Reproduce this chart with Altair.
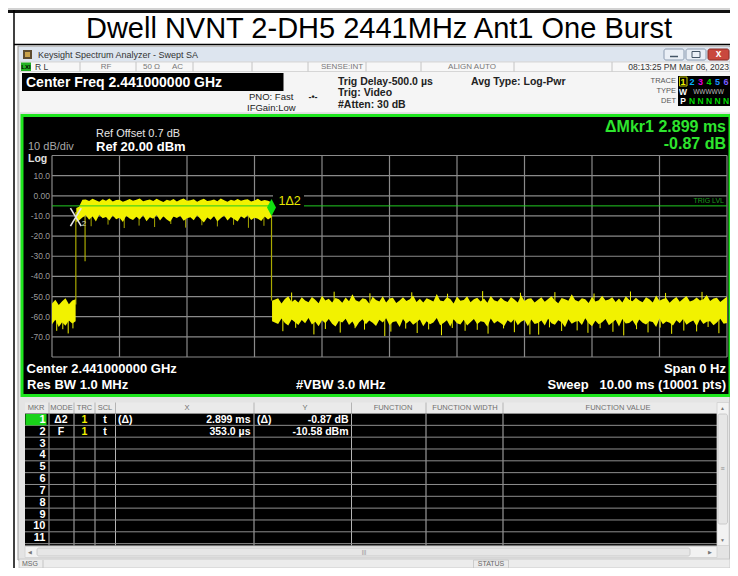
import altair as alt
import pandas as pd

# ---------------- values ----------------
TITLE = "Dwell NVNT 2-DH5 2441MHz Ant1 One Burst"

GRID_T = [0, 1, 2, 3, 4, 5, 6, 7, 8, 9, 10]
GRID_DB = [20, 10, 0, -10, -20, -30, -40, -50, -60, -70, -80]
YLAB_DB = [10, 0, -10, -20, -30, -40, -50, -60, -70]
YLAB_TXT = ["10.0", "0.00", "-10.0", "-20.0", "-30.0", "-40.0", "-50.0", "-60.0", "-70.0"]

# noise floor before the burst (ms, dBm)
NL_T = [0.00, 0.05, 0.10, 0.15, 0.20, 0.25, 0.30, 0.35]
NL_HI = [-53.5, -51.6, -54.2, -52.3, -50.9, -53.8, -52.0, -51.4]
NL_LO = [-63.8, -61.5, -65.1, -62.7, -64.5, -61.9, -63.4, -62.2]

# the burst
BURST_T = [float(v) for v in """
0.36 0.40 0.45 0.50 0.55 0.60 0.65 0.70 0.75 0.80 0.85 0.90 0.95 1.00 1.05 1.10 1.15 1.20 1.25 1.30
1.35 1.40 1.45 1.50 1.55 1.60 1.65 1.70 1.75 1.80 1.85 1.90 1.95 2.00 2.05 2.10 2.15 2.20 2.25 2.30
2.35 2.40 2.45 2.50 2.55 2.60 2.65 2.70 2.75 2.80 2.85 2.90 2.95 3.00 3.05 3.10 3.15 3.20 3.25
""".split()]
BURST_HI = [float(v) for v in """
-6.0 -5.4 -2.0 -1.8 -2.6 -1.5 -2.2 -2.9 -1.7 -2.4 -1.3 -2.8 -2.1 -1.9 -3.0 -2.3 -1.6 -2.5 -2.0 -1.4
-2.7 -2.2 -1.8 -2.6 -1.5 -2.3 -3.1 -1.9 -2.4 -1.6 -2.8 -2.0 -1.3 -2.5 -2.2 -1.7 -2.9 -2.1 -1.5 -2.6
-2.3 -1.8 -2.7 -1.4 -2.2 -2.9 -1.9 -2.4 -1.6 -2.5 -2.0 -1.7 -2.8 -2.3 -1.5 -2.6 -2.1 -2.4 -3.2
""".split()]
BURST_LO = [float(v) for v in """
-13.0 -12.2 -10.8 -9.6 -11.9 -10.2 -12.8 -9.4 -11.1 -10.5 -12.2 -9.8 -11.6 -10.9 -13.0 -9.9 -11.3 -12.0 -10.4 -11.8
-9.7 -12.6 -10.7 -11.4 -9.5 -12.3 -10.1 -11.7 -12.9 -10.3 -11.0 -9.9 -12.4 -11.2 -10.6 -12.1 -9.6 -11.5 -13.2 -10.8
-11.9 -10.0 -12.7 -11.1 -9.8 -12.2 -10.5 -11.6 -12.8 -10.2 -11.3 -9.7 -12.0 -10.9 -11.4 -12.5 -10.3 -11.8 -10.6
""".split()]
BURST_SPK_T = [0.58, 0.83, 1.07, 1.29, 1.52, 1.76, 1.98, 2.22, 2.45, 2.69, 2.91, 3.14]
BURST_SPK_DB = [-15.1, -14.3, -16.0, -14.8, -15.5, -14.0, -15.8, -14.6, -15.2, -14.4, -15.9, -14.9]

# noise floor after the burst
NR_T = [float(v) for v in """
3.26 3.35 3.40 3.45 3.50 3.55 3.60 3.65 3.70 3.75 3.80 3.85 3.90 3.95 4.00 4.05 4.10 4.15 4.20 4.25
4.30 4.35 4.40 4.45 4.50 4.55 4.60 4.65 4.70 4.75 4.80 4.85 4.90 4.95 5.00 5.05 5.10 5.15 5.20 5.25
5.30 5.35 5.40 5.45 5.50 5.55 5.60 5.65 5.70 5.75 5.80 5.85 5.90 5.95 6.00 6.05 6.10 6.15 6.20 6.25
6.30 6.35 6.40 6.45 6.50 6.55 6.60 6.65 6.70 6.75 6.80 6.85 6.90 6.95 7.00 7.05 7.10 7.15 7.20 7.25
7.30 7.35 7.40 7.45 7.50 7.55 7.60 7.65 7.70 7.75 7.80 7.85 7.90 7.95 8.00 8.05 8.10 8.15 8.20 8.25
8.30 8.35 8.40 8.45 8.50 8.55 8.60 8.65 8.70 8.75 8.80 8.85 8.90 8.95 9.00 9.05 9.10 9.15 9.20 9.25
9.30 9.35 9.40 9.45 9.50 9.55 9.60 9.65 9.70 9.75 9.80 9.85 9.90 9.95 10.00
""".split()]
NR_HI = [float(v) for v in """
-52.1 -50.8 -53.4 -51.2 -49.9 -52.7 -51.5 -53.0 -50.4 -51.9 -52.8 -50.2 -51.6 -53.3 -49.6 -52.0 -51.1 -52.9 -50.7 -51.4
-53.1 -50.5 -52.3 -48.9 -51.8 -52.6 -50.9 -51.3 -53.5 -50.1 -51.7 -52.4 -49.8 -52.9 -51.0 -50.6 -53.2 -51.9 -50.3 -52.2
-51.4 -49.5 -52.7 -51.1 -53.0 -50.8 -51.6 -52.5 -48.7 -51.9 -52.3 -50.4 -51.2 -53.4 -50.0 -52.1 -51.7 -49.9 -52.8 -51.3
-50.6 -52.5 -51.0 -53.1 -49.7 -51.8 -52.4 -50.5 -51.9 -52.7 -50.2 -51.5 -53.0 -49.4 -52.2 -51.1 -50.8 -52.9 -51.6 -50.3
-52.6 -51.2 -49.8 -52.0 -53.3 -50.7 -51.4 -52.1 -48.8 -51.7 -52.4 -50.9 -51.3 -53.2 -50.1 -52.5 -51.8 -49.6 -52.0 -51.5
-50.4 -52.7 -51.0 -53.0 -49.9 -51.6 -52.3 -50.6 -51.9 -52.8 -50.3 -51.4 -52.9 -49.5 -52.1 -51.2 -50.7 -53.1 -51.5 -50.2
-52.6 -51.1 -49.7 -52.4 -51.8 -50.5 -52.0 -51.3 -49.2 -52.2 -51.0 -50.6 -52.7 -51.4 -50.1
""".split()]
NR_LO = [float(v) for v in """
-62.3 -63.6 -60.9 -63.1 -64.4 -61.4 -62.8 -64.1 -61.6 -63.3 -60.7 -63.9 -62.5 -64.7 -61.8 -63.2 -61.2 -63.5 -64.9 -62.1
-62.9 -61.0 -64.1 -62.4 -65.3 -62.7 -61.3 -63.8 -61.9 -63.0 -64.6 -61.5 -62.9 -60.8 -64.3 -62.6 -62.2 -65.1 -61.1 -63.4
-62.0 -64.0 -62.7 -61.4 -64.7 -62.3 -63.7 -62.9 -60.6 -64.2 -63.1 -61.7 -64.9 -61.3 -63.3 -63.9 -61.5 -64.4 -62.8 -61.1
-63.8 -62.2 -62.6 -65.0 -60.9 -63.4 -62.1 -63.2 -64.6 -61.8 -63.0 -61.2 -64.3 -62.5 -61.6 -64.8 -61.4 -63.6 -63.1 -61.9
-64.4 -61.0 -63.2 -64.0 -61.7 -62.8 -65.2 -61.3 -63.5 -62.5 -62.1 -64.1 -60.8 -63.3 -64.7 -62.0 -63.8 -62.7 -61.2 -64.2
-62.9 -61.5 -64.9 -61.1 -63.4 -63.1 -61.8 -64.5 -61.4 -63.0 -63.9 -62.3 -62.6 -65.1 -60.9 -63.7 -62.4 -63.0 -64.4 -61.7
-63.2 -61.1 -64.0 -62.8 -61.9 -64.8 -61.3 -63.6 -62.5 -62.2 -64.3 -62.9 -61.0 -63.5 -63.1
""".split()]
NOISE_DN_T = [0.07, 0.16, 0.24, 0.31,
              3.42, 3.61, 3.88, 4.05, 4.27, 4.49, 4.63, 4.93, 5.02, 5.24, 5.41, 5.58, 5.77, 5.93, 6.12, 6.30,
              6.46, 6.69, 6.85, 7.08, 7.21, 7.37, 7.55, 7.78, 7.94, 8.12, 8.31, 8.47, 8.66, 8.83, 9.01, 9.18,
              9.36, 9.55, 9.72, 9.88]
NOISE_DN_DB = [-67.0, -66.2, -68.3, -65.8,
               -67.2, -65.5, -68.8, -66.1, -67.9, -65.7, -66.4, -69.6, -67.4, -65.9, -68.1, -66.3, -69.2, -65.6, -67.0, -66.5,
               -68.4, -65.8, -67.7, -68.8, -68.9, -65.3, -67.1, -66.8, -68.0, -65.7, -67.5, -69.3, -66.2, -67.8, -65.4, -68.5,
               -66.9, -67.3, -65.1, -68.2]
NOISE_UP_T = [3.55, 4.18, 4.71, 5.33, 5.86, 6.38, 6.94, 7.45, 8.03, 8.57, 9.09, 9.63]
NOISE_UP_DB = [-48.0, -47.6, -48.4, -47.9, -48.6, -47.3, -48.1, -47.8, -48.5, -47.5, -48.2, -47.7]

# edges of the burst: time, top, bottom
EDGE_T = [0.353, 0.49, 3.252]
EDGE_TOP = [-8.0, -10.0, -6.0]
EDGE_BOT = [-54.0, -32.5, -52.0]

TRIG_LVL_DB = -5.0
MKR2_T, MKR2_DB = 0.353, -10.58
MKR1_T, MKR1_DB = 3.252, -5.8

MKR_ROWS = [str(i) for i in range(1, 12)]
MKR_MODE = ["Δ2", "F"]
MKR_X = ["2.899 ms", "353.0 µs"]
MKR_Y = ["-0.87 dB", "-10.58 dBm"]

# ---------------- layout ----------------
OX, OY = 8, 8
W, H = 722, 560
FONT = "Liberation Sans"
GX0, GX1 = 52, 727
GY0, GY1 = 155.5, 357
YEL = "#f2f200"
OLIVE = "#a9a900"

XS = alt.Scale(domain=[0, 10], range=[GX0 - OX, GX1 - OX], nice=False, zero=False)
YS = alt.Scale(domain=[-80, 20], range=[GY1 - OY, GY0 - OY], nice=False, zero=False)

one = pd.DataFrame({"k": [0]})
layers = []


def px(x):
    return min(max(x, OX), OX + W) - OX


def py(y):
    return min(max(y, OY), OY + H) - OY


def rect(x1, y1, x2, y2, fill, stroke=None, sw=1, r=0):
    kw = {"fill": fill}
    if stroke:
        kw.update(stroke=stroke, strokeWidth=sw)
    if r:
        kw.update(cornerRadius=r)
    layers.append(alt.Chart(one).mark_rect(**kw).encode(
        x=alt.value(px(x1)), x2=alt.value(px(x2)), y=alt.value(py(y1)), y2=alt.value(py(y2))))


def hline(x1, x2, y, color, sw=1):
    layers.append(alt.Chart(one).mark_rule(color=color, strokeWidth=sw).encode(
        x=alt.value(px(x1)), x2=alt.value(px(x2)), y=alt.value(py(y))))


def vline(x, y1, y2, color, sw=1):
    layers.append(alt.Chart(one).mark_rule(color=color, strokeWidth=sw).encode(
        x=alt.value(px(x)), y=alt.value(py(y1)), y2=alt.value(py(y2))))


def text(x, y, s, size, color, weight="normal", align="left", font=FONT):
    layers.append(alt.Chart(one).mark_text(
        text=s, fontSize=size, color=color, fontWeight=weight, align=align,
        baseline="middle", font=font).encode(x=alt.value(x - OX), y=alt.value(y - OY)))


# ---- document table + title ----
rect(0, 0, 738, 10, "#d2d2d2")
rect(0, 10, 738, 13, "#111111")
vline(14, 10, 576, "#000000", 1.5)
hline(14, 738, 44.5, "#000000", 1.5)
text(379, 28.5, TITLE, 29, "#000000", align="center")

# ---- window ----
rect(18, 46, 733, 560, "#e4e4e4", "#9c9c9c", 1)
rect(19, 47, 732, 61.5, "#dde5ef")
rect(23, 50, 32, 59, "#5d4c30")
rect(25, 52, 30, 57, "#c9a24a")
text(38, 54.5, "Keysight Spectrum Analyzer - Swept SA", 9, "#333333")
rect(664, 49, 684, 60, "#eaeff6", "#8b9bb0", 1, 2)
hline(670, 678, 56.5, "#445566", 1.5)
rect(686, 49, 706, 60, "#eaeff6", "#8b9bb0", 1, 2)
rect(692, 51.5, 700, 57.5, "#eaeff6", "#445566", 1)
rect(708, 49, 729, 60, "#c9483e", "#8a2a22", 1, 2)
text(718.5, 54.3, "x", 10, "#ffffff", "bold", "center")

# status row
rect(20, 62, 731, 71.5, "#f7f7f7", "#cfcfcf", 0.8)
rect(21, 62.5, 31, 71, "#24b324")
text(26, 67, "LXI", 6, "#000000", "bold", "center")
for sx in [80, 136, 193, 252, 308, 366, 421, 514, 612]:
    vline(sx, 62, 71.5, "#c4c4c4")
text(35, 67, "R L", 8.5, "#333333")
text(106, 67, "RF", 8, "#777777", align="center")
text(143, 67, "50 Ω", 8, "#777777")
text(172, 67, "AC", 8, "#777777")
text(342, 67, "SENSE:INT", 8, "#777777", align="center")
text(472, 67, "ALIGN AUTO", 8, "#777777", align="center")
text(729, 67, "08:13:25 PM Mar 06, 2023", 8.5, "#333333", align="right")

# info panel
rect(20, 72, 731, 113.5, "#f5f5f5")
hline(20, 731, 113, "#cfcfcf")
rect(22, 73, 283.5, 91, "#000000")
text(26, 82.5, "Center Freq 2.441000000 GHz", 14, "#ffffff", "bold")
text(249, 97, "PNO: Fast", 9.5, "#222222")
text(313, 97, "-•-", 9, "#222222", "bold", "center")
text(247, 107.5, "IFGain:Low", 9.5, "#222222")
text(338, 81.5, "Trig Delay-500.0 µs", 10.5, "#222222", "bold")
text(338, 93, "Trig: Video", 10.5, "#222222", "bold")
text(338, 105, "#Atten: 30 dB", 10.5, "#222222", "bold")
text(471, 81.5, "Avg Type: Log-Pwr", 10.5, "#222222", "bold")
text(676, 81, "TRACE", 7.5, "#555555", align="right")
text(676, 91, "TYPE", 7.5, "#555555", align="right")
text(676, 101, "DET", 7.5, "#555555", align="right")
rect(678, 76, 730, 106, "#000000")
rect(679.5, 77, 687, 86, "#000000", "#c8c800", 1)
TR_X = [683, 692, 700.5, 709, 717.5, 726]
TR_C = ["#f0f000", "#00b4ff", "#e000e0", "#00d800", "#1e90ff", "#7a5cff"]
for i, (tx, tc) in enumerate(zip(TR_X, TR_C)):
    text(tx, 81.5, str(i + 1), 9, tc, "bold", "center")
text(683, 91.5, "W", 8.5, "#ffffff", "bold", "center")
text(708.5, 91.5, "WWWWW", 6.5, "#bdbdbd", align="center")
text(683, 101, "P", 8.5, "#ffffff", "bold", "center")
for tx in TR_X[1:]:
    text(tx, 101, "N", 8.5, "#00d800", "bold", "center")

# ---- plot panel ----
rect(22, 115.5, 730.5, 395.5, "#000000", "#1ee61e", 3)
text(96, 134, "Ref Offset 0.7 dB", 11, "#e6e6e6")
text(96, 146.5, "Ref 20.00 dBm", 13, "#ffffff", "bold")
text(28, 147, "10 dB/div", 11, "#a8a8a8")
text(28, 158.5, "Log", 10.5, "#e0e0e0", "bold")
text(726, 127, "ΔMkr1 2.899 ms", 16, "#2ee52e", "bold", "right")
text(726, 143.5, "-0.87 dB", 16, "#2ee52e", "bold", "right")
text(26.5, 368.5, "Center 2.441000000 GHz", 13, "#ffffff", "bold")
text(27, 384.5, "Res BW 1.0 MHz", 13, "#ffffff", "bold")
text(296, 384.5, "#VBW 3.0 MHz", 13, "#ffffff", "bold")
text(726, 368.5, "Span 0 Hz", 13, "#ffffff", "bold", "right")
text(726, 384.5, "Sweep\u00a0\u00a0 10.00 ms (10001 pts)", 13, "#ffffff", "bold", "right")


def X_ENC(f):
    return alt.X(f, type="quantitative", scale=XS, axis=None)


def Y_ENC(f):
    return alt.Y(f, type="quantitative", scale=YS, axis=None)


# graticule
layers.append(alt.Chart(pd.DataFrame({"t": GRID_T})).mark_rule(color="#8a8a8a", strokeWidth=1.2).encode(
    x=X_ENC("t"), y=alt.value(py(GY0)), y2=alt.value(py(GY1))))
layers.append(alt.Chart(pd.DataFrame({"db": GRID_DB})).mark_rule(color="#8a8a8a", strokeWidth=1.2).encode(
    y=Y_ENC("db"), x=alt.value(px(GX0)), x2=alt.value(px(GX1))))
layers.append(alt.Chart(pd.DataFrame({"db": YLAB_DB, "lab": YLAB_TXT})).mark_text(
    align="right", baseline="middle", fontSize=8.5, color="#9a9a9a", font=FONT).encode(
    x=alt.value(px(50)), y=Y_ENC("db"), text="lab:N"))

# trace: spikes, edges, dense bands
spk = pd.DataFrame({"t": BURST_SPK_T, "db": BURST_SPK_DB})
layers.append(alt.Chart(spk).transform_calculate(base="-10").mark_rule(color=OLIVE, strokeWidth=1).encode(
    x=X_ENC("t"), y=Y_ENC("db"), y2="base:Q"))
edges = pd.DataFrame({"t": EDGE_T, "top": EDGE_TOP, "bot": EDGE_BOT})
layers.append(alt.Chart(edges).mark_rule(color=OLIVE, strokeWidth=1.2).encode(
    x=X_ENC("t"), y=Y_ENC("top"), y2="bot:Q"))
dn = pd.DataFrame({"t": NOISE_DN_T, "db": NOISE_DN_DB})
layers.append(alt.Chart(dn).transform_calculate(base="-61").mark_rule(color=YEL, strokeWidth=1).encode(
    x=X_ENC("t"), y=Y_ENC("db"), y2="base:Q"))
up = pd.DataFrame({"t": NOISE_UP_T, "db": NOISE_UP_DB})
layers.append(alt.Chart(up).transform_calculate(base="-53").mark_rule(color=YEL, strokeWidth=1).encode(
    x=X_ENC("t"), y=Y_ENC("db"), y2="base:Q"))
for ts, hi, lo in [(NL_T, NL_HI, NL_LO), (BURST_T, BURST_HI, BURST_LO), (NR_T, NR_HI, NR_LO)]:
    df = pd.DataFrame({"t": ts, "hi": hi, "lo": lo})
    layers.append(alt.Chart(df).mark_area(color=YEL, opacity=1, interpolate="linear").encode(
        x=X_ENC("t"), y=Y_ENC("hi"), y2="lo:Q"))

# trigger level line
layers.append(alt.Chart(pd.DataFrame({"db": [TRIG_LVL_DB]})).mark_rule(color="#22cc22", strokeWidth=1).encode(
    y=Y_ENC("db"), x=alt.value(px(GX0)), x2=alt.value(px(GX1))))
text(724, 200.5, "TRIG LVL", 7, "#1c9a1c", align="right")

# markers
rect(273, 194, 304, 211.5, "#000000")
m1 = pd.DataFrame({"t": [MKR1_T], "db": [MKR1_DB]})
layers.append(alt.Chart(m1).mark_text(text="1Δ2", align="left", baseline="middle", dx=7, dy=-6,
                                      fontSize=12.5, color="#e6e600", font=FONT).encode(
    x=X_ENC("t"), y=Y_ENC("db")))
layers.append(alt.Chart(m1).mark_point(shape="M0,-1L0.53,0L0,1L-0.53,0Z", filled=True, size=289,
                                       color="#10e010", opacity=1).encode(x=X_ENC("t"), y=Y_ENC("db")))
m2 = pd.DataFrame({"t": [MKR2_T], "db": [MKR2_DB]})
layers.append(alt.Chart(m2).mark_point(shape="M-0.6,-1L0.6,1M0.6,-1L-0.6,1", filled=False, size=324,
                                       color="#e4e4e4", strokeWidth=1.6, opacity=1).encode(
    x=X_ENC("t"), y=Y_ENC("db")))
layers.append(alt.Chart(m2).mark_text(text="2", align="left", baseline="middle", dx=6, dy=7,
                                      fontSize=8, color="#d8d8c0", font=FONT).encode(
    x=X_ENC("t"), y=Y_ENC("db")))

# ---- marker table ----
rect(25, 402.5, 717, 413.5, "#eaeaea")
rect(25, 413.5, 717, 545.5, "#000000")
COLS = [49, 74, 95, 115.5, 254, 351.5, 426, 503]
for cx in COLS:
    vline(cx, 402.5, 545.5, "#b4b4b4")
ROW_H = 11.83
for k in range(12):
    hline(25, 717, 413.5 + k * ROW_H, "#8e8e8e")
for lab, cx in [("MKR", 36), ("MODE", 61.5), ("TRC", 84.5), ("SCL", 105), ("X", 187), ("Y", 305),
                ("FUNCTION", 393), ("FUNCTION WIDTH", 465), ("FUNCTION VALUE", 618)]:
    text(cx, 408, lab, 7.5, "#707070", align="center")
rect(25.5, 414, 46.5, 425.3, "#19d219")
for k, lab in enumerate(MKR_ROWS):
    text(45.5, 420 + k * ROW_H, lab, 11, "#ffffff", "bold", "right")
for k in range(2):
    yy = 420 + k * ROW_H
    text(61, yy, MKR_MODE[k], 10.5, "#ffffff", "bold", "center")
    text(84.5, yy, "1", 10.5, "#f0f000", "bold", "center")
    text(105, yy, "t", 10.5, "#ffffff", "bold", "center")
    text(250.5, yy, MKR_X[k], 10.5, "#ffffff", "bold", "right")
    text(348.5, yy, MKR_Y[k], 10.5, "#ffffff", "bold", "right")
text(118, 420, "(Δ)", 10.5, "#ffffff", "bold")
text(257, 420, "(Δ)", 10.5, "#ffffff", "bold")

# scrollbars
rect(717, 402.5, 729, 545.5, "#f2f2f2", "#d0d0d0", 0.8)
rect(718, 414, 727.5, 524, "#e6e6e6", "#c2c2c2", 0.8, 2)
text(722.5, 407.5, "▲", 5, "#777777", align="center")
text(722.5, 540, "▼", 5, "#777777", align="center")
text(722.5, 469, "≡", 7, "#888888", align="center")
rect(25, 546.5, 717, 557.5, "#f2f2f2", "#d0d0d0", 0.8)
rect(37, 548, 690, 556, "#e6e6e6", "#c2c2c2", 0.8, 2)
text(30, 552, "◀", 5, "#777777", align="center")
text(710, 552, "▶", 5, "#777777", align="center")
text(364, 552, "|||", 6, "#888888", align="center")

# status bar
rect(19, 559, 732, 576, "#ececec", "#c4c4c4", 0.8)
text(22, 563.5, "MSG", 7, "#666666")
vline(43, 560, 576, "#c4c4c4")
rect(473.5, 560, 508.5, 576, "#ececec", "#c4c4c4", 0.8)
text(491, 563.5, "STATUS", 7, "#666666", align="center")

chart = alt.layer(*layers).properties(
    width=W, height=H, padding=0, background="white",
    autosize=alt.AutoSizeParams(type="none")
).configure_view(stroke=None)

chart.save("out.html", embed_options={"renderer": "svg", "actions": False})
